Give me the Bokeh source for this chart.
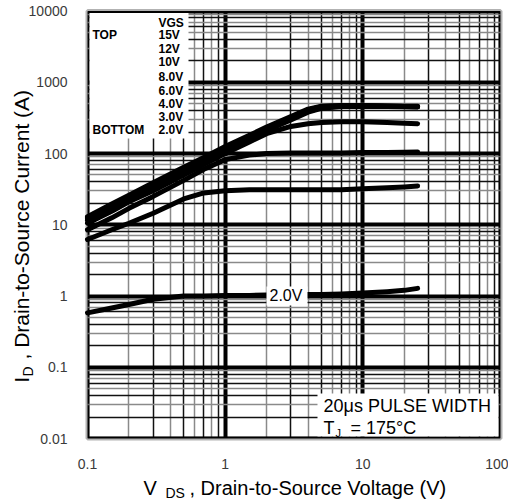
import math
from bokeh.plotting import figure
from bokeh.models import Range1d, FixedTicker, Grid, BoxAnnotation, Label
from bokeh.embed import file_html
from bokeh.resources import INLINE

# ---- data ----
VDS = [0.1, 0.15, 0.2, 0.3, 0.5, 0.7, 1, 1.5, 2, 3, 4, 5, 7, 10, 15, 20, 25]
ID_15V = [13, 19.5, 26, 39, 64, 88, 125, 180, 235, 330, 420, 460, 470, 470, 465, 460, 460]
ID_12V = [12.5, 19, 25, 37, 62, 85, 120, 175, 228, 320, 410, 455, 468, 468, 462, 458, 455]
ID_10V = [12, 18, 24, 35, 59, 81, 115, 168, 220, 310, 400, 445, 462, 465, 460, 455, 452]
ID_8V = [11.5, 17, 23, 33, 56, 77, 110, 160, 210, 295, 380, 430, 455, 460, 455, 452, 450]
ID_6V = [10.5, 15.5, 21, 30, 50, 70, 100, 145, 190, 240, 262, 272, 278, 280, 272, 266, 262]
ID_4V = [8.5, 12.5, 17, 25, 42, 60, 82, 95, 100, 102, 102, 102, 102, 103, 103, 104, 105]
ID_3V = [6.2, 8.5, 10.5, 14.5, 23, 28, 30, 31, 31, 31, 31, 31, 31, 32, 33, 34, 35]
ID_2V = [0.58, 0.68, 0.76, 0.9, 1.0, 1.0, 1.02, 1.02, 1.03, 1.04, 1.05, 1.05, 1.07, 1.1, 1.15, 1.2, 1.28]
SERIES = [ID_15V, ID_12V, ID_10V, ID_8V, ID_6V, ID_4V, ID_3V, ID_2V]

X_TICKS = [0.1, 1, 10, 100]
X_TICK_LABELS = ["0.1", "1", "10", "100"]
Y_TICKS = [0.01, 0.1, 1, 10, 100, 1000, 10000]
Y_TICK_LABELS = ["0.01", "0.1", "1", "10", "100", "1000", "10000"]
VGS_TITLE = "VGS"
VGS_LABELS = ["15V", "12V", "10V", "8.0V", "6.0V", "4.0V", "3.0V", "2.0V"]
TOP_TEXT = "TOP"
BOTTOM_TEXT = "BOTTOM"
CURVE_LABEL = "2.0V"
NOTE_LINE1 = "20\u03bcs PULSE WIDTH"
NOTE_T, NOTE_J, NOTE_REST = "T", "J", "= 175\u00b0C"
X_TITLE_MAIN, X_TITLE_SUB, X_TITLE_REST = "V", "DS", ", Drain-to-Source Voltage (V)"
Y_TITLE_MAIN, Y_TITLE_SUB, Y_TITLE_REST = "I", "D", ", Drain-to-Source Current (A)"

FONT = "Liberation Sans"

# ---- layout (pixels of the canvas) ----
W, H = 508, 500
BOX_L, BOX_R, BOX_T, BOX_B = 87.0, 500.0, 10.5, 438.0
XL0, XL1 = math.log10(X_TICKS[0]), math.log10(X_TICKS[-1])
YL0, YL1 = math.log10(Y_TICKS[0]), math.log10(Y_TICKS[-1])
XPD = (BOX_R - BOX_L) / (XL1 - XL0)
YPD = (BOX_B - BOX_T) / (YL1 - YL0)
X_START, X_END = 10 ** (XL0 - BOX_L / XPD), 10 ** (XL1 + (W - BOX_R) / XPD)
Y_START, Y_END = 10 ** (YL0 - (H - BOX_B) / YPD), 10 ** (YL1 + BOX_T / YPD)

p = figure(x_axis_type="log", y_axis_type="log",
           x_range=Range1d(X_START, X_END), y_range=Range1d(Y_START, Y_END),
           frame_width=W, frame_height=H, min_border=0,
           min_border_left=0, min_border_right=0, min_border_top=0, min_border_bottom=0,
           output_backend="svg", toolbar_location=None)
p.background_fill_color = "white"
p.border_fill_color = "white"
p.outline_line_color = None
p.xgrid.visible = False
p.ygrid.visible = False

HAS_CROSS = "cross_bounds" in Grid.properties()

def minor(lo_exp, hi_exp, ks):
    return [k * 10.0 ** e for e in range(lo_exp, hi_exp) for k in ks]

def grid(dim, ticks, color, width):
    g = Grid(dimension=dim, ticker=FixedTicker(ticks=ticks),
             grid_line_color=color, grid_line_width=width)
    if HAS_CROSS:
        g.cross_bounds = (Y_TICKS[0], Y_TICKS[-1]) if dim == 0 else (X_TICKS[0], X_TICKS[-1])
    p.add_layout(g)

# vertical grid
grid(0, minor(-1, 2, [2, 4, 6, 8]), "#8a8a8a", 1.5)
grid(0, minor(-1, 2, [3, 5, 7, 9]), "#111111", 1.5)
grid(0, X_TICKS, "black", 4)
# horizontal grid
grid(1, minor(-2, 4, [3, 5, 7, 9]), "#8a8a8a", 1.5)
grid(1, minor(-2, 4, [2, 4, 6, 8]), "#111111", 1.5)
grid(1, Y_TICKS, "black", 4)

def white_box(**kw):
    b = BoxAnnotation(fill_color="white", fill_alpha=1, line_color=None, level="underlay", **kw)
    p.add_layout(b)
    return b

# white outside the plot box (hides grid lines there)
FAR_L, FAR_R, FAR_B, FAR_T = X_START / 100, X_END * 100, Y_START / 100, Y_END * 100
white_box(left=FAR_L, right=X_TICKS[0], bottom=FAR_B, top=FAR_T)
white_box(left=X_TICKS[-1], right=FAR_R, bottom=FAR_B, top=FAR_T)
white_box(left=FAR_L, right=FAR_R, bottom=Y_TICKS[-1], top=FAR_T)
white_box(left=FAR_L, right=FAR_R, bottom=FAR_B, top=Y_TICKS[0])

def scr(px, py):
    return px, H - py

# legend box and note box (white)
sl, st = scr(BOX_L + 2, BOX_T + 2)
sr, sb = scr(188, 138)
white_box(left=sl, right=sr, bottom=sb, top=st,
          left_units="screen", right_units="screen", bottom_units="screen", top_units="screen")
sl, st = scr(317, 393)
sr, sb = scr(BOX_R - 2, BOX_B - 2)
white_box(left=sl, right=sr, bottom=sb, top=st,
          left_units="screen", right_units="screen", bottom_units="screen", top_units="screen")
# white patch behind the "2.0V" curve label
sl, st = scr(266, 286)
sr, sb = scr(307, 305)
p.add_layout(BoxAnnotation(left=sl, right=sr, bottom=sb, top=st,
                           left_units="screen", right_units="screen",
                           bottom_units="screen", top_units="screen",
                           fill_color="white", fill_alpha=1, line_color=None))

# axes (placed at the plot box edges)
for ax, ticks, labels in ((p.xaxis, X_TICKS, X_TICK_LABELS), (p.yaxis, Y_TICKS, Y_TICK_LABELS)):
    ax.ticker = FixedTicker(ticks=ticks, minor_ticks=[])
    ax.major_label_overrides = {t: l for t, l in zip(ticks, labels)}
    ax.major_tick_line_color = None
    ax.minor_tick_line_color = None
    ax.axis_line_color = None
    ax.major_label_text_font = FONT
    ax.major_label_text_font_size = "14px"
    ax.major_label_text_color = "#3a3a3a"
p.xaxis.fixed_location = Y_TICKS[0]
p.yaxis.fixed_location = X_TICKS[0]
p.xaxis.major_label_standoff = 14
p.yaxis.major_label_standoff = 14

# curves
for ser in SERIES:
    p.line(VDS, ser, line_width=5, line_color="black", line_cap="round", line_join="round")

# plot box border
p.add_layout(BoxAnnotation(left=X_TICKS[0], right=X_TICKS[-1], bottom=Y_TICKS[0], top=Y_TICKS[-1],
                           fill_alpha=0, fill_color=None, line_color="black", line_width=4))

def lab(text, px, py, size, style="normal", align="left", baseline="middle", angle=0.0):
    sx, sy = scr(px, py)
    l = Label(x=sx, y=sy, x_units="screen", y_units="screen", text=text,
              text_font=FONT, text_font_size=size, text_font_style=style,
              text_color="black", text_align=align, text_baseline=baseline, angle=angle)
    p.add_layout(l)
    return l

# legend texts
lab(TOP_TEXT, 92, 34, "12px", "bold")
lab(BOTTOM_TEXT, 92, 129, "12px", "bold")
LEG_Y = [22.7, 34.5, 48, 61, 76.5, 90, 103, 116, 129]
for txt, yy in zip([VGS_TITLE] + VGS_LABELS, LEG_Y):
    lab(txt, 158, yy, "12px", "bold")

# curve label
lab(CURVE_LABEL, 269, 295, "16px")

# note
lab(NOTE_LINE1, 323, 405, "18px")
lab(NOTE_T, 323, 427, "18px")
lab(NOTE_J, 335, 432, "11px")
lab(NOTE_REST, 350, 427, "18px")

# axis titles
lab(X_TITLE_MAIN, 143, 487, "20px")
lab(X_TITLE_SUB, 165, 492, "14px")
lab(X_TITLE_REST, 189, 487, "20px")

lab(Y_TITLE_MAIN, 21, 382, "20px", angle=math.pi / 2)
lab(Y_TITLE_SUB, 27, 376, "14px", angle=math.pi / 2)
lab(Y_TITLE_REST, 21, 359, "21px", angle=math.pi / 2)

open("out.html", "w").write(file_html(p, INLINE))
